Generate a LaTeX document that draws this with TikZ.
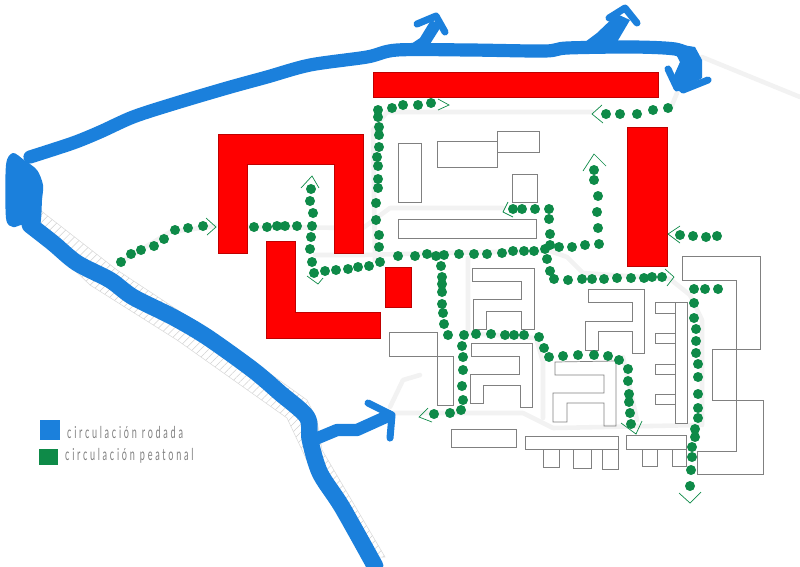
\documentclass[tikz,border=0pt]{standalone}
\usepackage{fontspec}
\newfontfamily\legendfont[LetterSpace=30]{Lato}
\usetikzlibrary{patterns.meta}
\definecolor{carblue}{RGB}{27,128,220}
\definecolor{walkgreen}{RGB}{14,138,72}
\tikzset{
  road/.style={draw=black!5, line width=2.6pt, line join=round, line cap=round},
  hatchroad/.style={draw=black!15, line width=0.3pt, pattern={Lines[angle=45,distance=3.2pt,line width=0.3pt]}, pattern color=black!18},
  block/.style={draw=black!50, line width=0.4pt},
  mass/.style={fill=red, draw=red!75!black, line width=0.3pt},
  carway/.style={draw=carblue, line width=7.5pt, line cap=round, line join=round},
  carbarb/.style={draw=carblue, line width=4pt, line cap=round, line join=round},
  turn/.style={draw=walkgreen, line width=0.4pt},
  legendtext/.style={text=black!50, font=\legendfont\fontsize{9.4}{11}\selectfont, xscale=0.55, anchor=west, inner sep=0pt}
}

\begin{document}
\begin{tikzpicture}[x=0.02cm,y=-0.02cm]
  \useasboundingbox (0,0) rectangle (800,566);

  % roads
  \draw[hatchroad] (40,210) -- (117,270) -- (223,340) -- (307,400) -- (317,420) -- (322,450) -- (385,557)
    -- (367,557) -- (310,467) -- (287,418) -- (177,340) -- (90,285) -- (33,230) -- cycle;
  \draw[road] (121,262) -- (170,232) -- (215,226);
  \draw[road] (247,227) -- (363,228) -- (390,208) -- (503,208);
  \draw[road] (315,255) -- (363,255) -- (440,253) -- (545,251);
  \draw[road] (375,260) -- (373,130) -- (387,112) -- (592,112);
  \draw[road] (468,258) -- (468,333) -- (536,338) -- (543,362) -- (543,418);
  \draw[road] (547,250) -- (567,257) -- (583,273) -- (670,279) -- (690,295) -- (702,320) -- (702,425);
  \draw[road] (623,357) -- (637,420);
  \draw[road] (393,413) -- (523,413) -- (553,428) -- (700,425);
  \draw[road] (390,407) -- (403,380) -- (420,375);
  \draw[road] (702,57) -- (800,97);
  \draw[road] (677,93) -- (670,110);

  % buildings
  \draw[block] (398,143) rectangle (421,202);
  \draw[block] (437,141) rectangle (497,167);
  \draw[block] (497,131) rectangle (539,152);
  \draw[block] (512,174) rectangle (537,202);
  \draw[block] (398,219) rectangle (536,238);
  \draw[block] (472,268) -- (534,268) -- (534,329) -- (521,329) -- (521,311) -- (486,311) -- (486,329)
    -- (473,329) -- (473,299) -- (521,299) -- (521,281) -- (472,281) -- cycle;
  \draw[block] (471,343) -- (532,343) -- (532,407) -- (520,407) -- (520,385) -- (483,385) -- (483,403)
    -- (470,403) -- (470,374) -- (519,374) -- (519,356) -- (471,356) -- cycle;
  \draw[block] (389,332) rectangle (437,356);
  \draw[block] (437,356) rectangle (453,405);
  \draw[block] (451,429) rectangle (516,447);
  \draw[block] (525,436) rectangle (618,449);
  \draw[block] (543,449) rectangle (559,467);
  \draw[block] (573,449) rectangle (591,468);
  \draw[block] (602,449) rectangle (618,469);
  \draw[block] (626,435) rectangle (686,449);
  \draw[block] (642,449) rectangle (657,466);
  \draw[block] (672,449) rectangle (686,466);
  \draw[block] (588,289) -- (644,289) -- (644,353) -- (632,353) -- (632,331) -- (598,331) -- (598,350)
    -- (585,350) -- (585,321) -- (632,321) -- (632,302) -- (588,302) -- cycle;
  \draw[block] (555,362) -- (616,361) -- (616,426) -- (604,426) -- (604,403) -- (567,403) -- (567,422)
    -- (553,422) -- (553,393) -- (604,393) -- (604,375) -- (555,375) -- cycle;
  \draw[block] (675,302) rectangle (687,423);
  \foreach \ytop/\ybot in {302/313,333/343,364/374,394/404}
    \draw[block] (655,\ytop) rectangle (675,\ybot);
  \draw[block] (682,256) -- (760,256) -- (760,349) -- (712,349) -- (712,400) -- (763,400) -- (763,474)
    -- (697,474) -- (697,451) -- (736,451) -- (736,280) -- (682,280) -- cycle;

  % red volumes
  \draw[mass] (373,72) rectangle (658,97);
  \draw[mass] (627,127) rectangle (667,266);
  \draw[mass] (385,267) rectangle (411,307);
  \draw[mass] (218,134) -- (363,134) -- (363,253) -- (334,253) -- (334,164) -- (247,164) -- (247,253) -- (218,253) -- cycle;
  \draw[mass] (266,241) -- (295,241) -- (295,312) -- (380,312) -- (380,338) -- (266,338) -- cycle;

  % vehicles
  \fill[carblue] plot[smooth cycle] coordinates {(6,165) (13,153) (24,160) (37,170) (43,185) (42,200)
    (40,225) (30,230) (22,225) (13,227) (6,218)};
  \draw[carway] plot[smooth] coordinates {(30,157) (73,143) (100,132) (133,117) (173,104) (227,88) (267,77)
    (310,65) (367,57) (397,50) (470,50) (545,51) (567,48) (633,47) (675,49) (692,56)};
  \fill[carblue] (670,43) -- (695,47) -- (702,60) -- (702,78) -- (680,92) -- (672,80) -- (680,62) -- cycle;
  \draw[carbarb] (668,69) -- (677,88);
  \draw[carbarb] (708,80) -- (683,90);
  \fill[carblue] (408,46) -- (420,38) -- (431,20) -- (442,25) -- (430,44) -- cycle;
  \draw[carbarb] (417,24) -- (436,16) -- (445,32);
  \fill[carblue] (585,42) -- (597,33) -- (617,14) -- (630,20) -- (617,42) -- cycle;
  \draw[carbarb] (609,18) -- (625,8) -- (637,23);
  \draw[carway, line width=9.5pt] plot[smooth] coordinates {(30,225) (53,243) (77,263) (110,280) (133,297)
    (173,317) (207,337) (253,370) (280,393) (307,417) (310,440) (320,473) (342,507) (375,566)};
  \draw[carway, line width=7pt] (313,440) -- (337,430) -- (357,430) -- (388,416);
  \draw[carbarb] (368,403) -- (392,415) -- (390,438);

  % pedestrians
  \foreach \x/\y in {121/262,131/254,141/250,154/246,164/239,175/230,188/228,203/226,
    254/227,267/227,277/226,285/226,297/226,
    311/189,310/201,313/213,312/226,311/237,310/249,312/262,314/273,
    325/271,336/270,348/269,358/267,369/266,380/262,
    378/110,378/117,379/127,379/135,379/147,377/157,378/166,378/179,378/188,376/203,376/220,379/235,379/247,
    392/108,403/105,418/105,431/103,
    606/114,620/114,637/114,653/110,668/108,
    594/170,594/180,598/196,597/212,598/228,599/244,585/245,572/247,559/247,550/245,545/249,
    398/256,415/256,427/254,436/256,444/255,459/254,474/254,487/254,502/253,513/251,524/251,534/251,
    513/209,522/209,535/209,549/209,549/219,550/234,
    680/235,693/236,706/237,717/236,
    547/259,550/271,554/279,568/280,582/279,592/279,604/279,617/278,631/278,644/278,652/277,662/277,
    441/266,442/277,442/284,442/292,442/304,443/313,444/324,448/335,464/335,476/334,491/334,505/335,514/335,524/335,
    539/337,544/348,549/357,563/356,578/355,594/355,608/356,619/360,628/369,628/381,629/394,629/402,630/413,631/424,
    462/346,463/357,463/370,462/386,463/400,461/410,450/413,434/414,
    694/289,705/289,718/289,694/303,694/318,696/329,696/341,696/353,698/364,698/377,698/394,698/408,698/418,
    695/429,695/437,692/447,692/457,691/470,690/486}
    \fill[walkgreen] (\x,\y) circle (2.85pt);

  % hand drawn arrow ends
  \draw[turn] (206,218) -- (216,227) -- (207,235);
  \draw[turn] (301,188) -- (312,176) -- (319,188);
  \draw[turn] (307,276) -- (318,284) -- (323,278);
  \draw[turn] (438,99) -- (449,105) -- (438,110);
  \draw[turn] (602,105) -- (592,114) -- (603,123);
  \draw[turn] (583,171) -- (594,154) -- (606,166);
  \draw[turn] (508,202) -- (503,212) -- (513,217);
  \draw[turn] (680,226) -- (668,234) -- (680,243);
  \draw[turn] (428,408) -- (419,417) -- (432,422);
  \draw[turn] (621,423) -- (636,434) -- (642,421);
  \draw[turn] (665,269) -- (674,277) -- (667,286);
  \draw[turn] (679,493) -- (690,503) -- (701,492);

  % legend
  \fill[carblue] (40,420) rectangle (60,440);
  \fill[walkgreen] (39,449) rectangle (58,465);
  \node[legendtext] (rodada) at (67,432) {circulación rodada};
  \node[legendtext] (peatonal) at (65,456) {circulación peatonal};
\end{tikzpicture}
\end{document}
